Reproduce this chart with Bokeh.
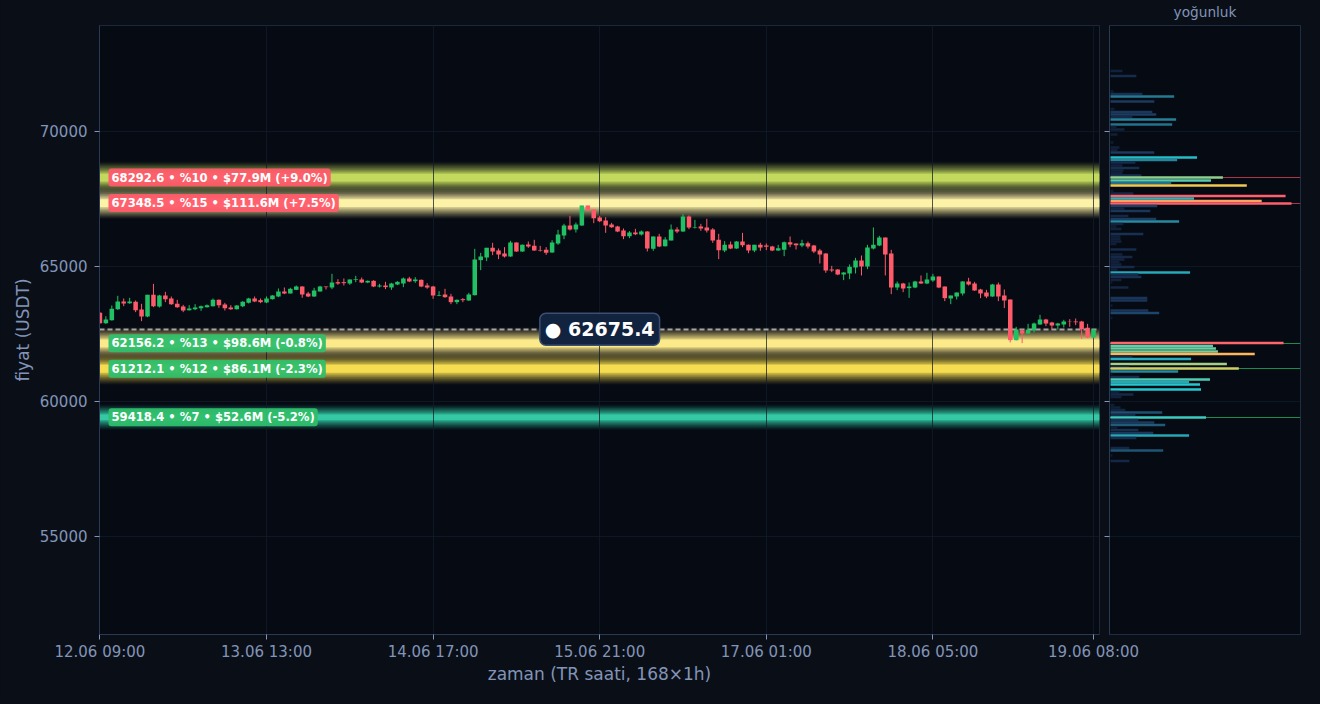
from bokeh.plotting import figure
from bokeh.layouts import row
from bokeh.models import Range1d, FixedTicker, Label, ColumnDataSource, CustomLabelingPolicy
from bokeh.embed import file_html
from bokeh.resources import INLINE

# ---------- data ----------
opens = [63284,62901,63012,63420,63704,63642,63691,63407,63148,63951,63518,63926,63815,63617,63518,63383,63420,63457,63494,63531,63765,63593,63481,63420,63531,63654,63815,63753,63667,63790,63889,64074,64000,64136,64259,64000,63889,64074,64259,64222,64420,64420,64370,64506,64519,64407,64469,64259,64296,64222,64333,64370,64556,64457,64506,64296,64259,
63914,63963,63889,63679,63790,63741,63938,65235,65333,65691,65593,65482,65371,65889,65556,65815,65766,65605,65617,65519,65852,66148,66519,66371,66519,67259,67111,66815,66704,66556,66482,66334,66124,66259,66185,66296,65654,66111,65753,65963,66371,66296,66852,66432,66482,66445,66371,65988,65593,65815,65667,65926,65803,65593,65803,65778,65741,65593,65617,65901,65852,65778,65864,65778,65593,65482,64889,64889,64704,64741,64963,65222,65000,65667,65778,66074,65482,64222,64370,64198,64222,64445,64370,64482,64630,64259,63815,63889,64000,64445,64370,64148,64037,63889,64333,63926,63778,62272,62630,62519,62630,62852,63037,62926,62815,62852,62963,62963,62963,62728,62370]
closes = [62901,63037,63432,63704,63630,63704,63383,63148,63951,63531,63926,63790,63605,63494,63370,63444,63481,63531,63568,63765,63568,63457,63420,63555,63691,63815,63704,63679,63815,63926,64074,64000,64173,64259,63963,63889,64111,64259,64235,64407,64370,64383,64519,64531,64407,64469,64259,64296,64235,64370,64432,64556,64444,64519,64259,64222,63926,
63938,63864,63679,63766,63753,63963,65259,65371,65691,65556,65445,65371,65889,65556,65803,65741,65593,65580,65506,65889,66185,66519,66371,66556,67259,67099,66790,66679,66519,66457,66296,66124,66259,66198,66296,65667,66111,65741,66000,66371,66296,66852,66445,66457,66408,66334,65963,65605,65803,65667,65926,65790,65593,65803,65704,65729,65593,65679,65901,65815,65790,65864,65741,65556,65445,64852,64852,64704,64778,64988,65222,65000,65704,65803,66074,65445,64222,64370,64185,64259,64445,64370,64519,64630,64222,63827,63926,64037,64445,64333,64111,64000,63889,64333,63889,63741,62272,62667,62519,62654,62889,63037,62889,62815,62889,62963,62951,62938,62679,62370,62667]
highs = [63310,63160,63555,63914,63815,63839,63741,63617,63951,64358,63951,64062,63889,63765,63580,63568,63605,63555,63593,63815,63778,63654,63568,63568,63716,63839,63889,63815,63889,63938,64185,64222,64210,64296,64272,64062,64210,64284,64259,64728,64531,64556,64519,64654,64593,64482,64494,64358,64432,64395,64457,64593,64617,64605,64519,64383,64284,
64087,64173,63988,63778,63827,64025,65654,65506,65691,65877,65667,65716,65951,65889,65815,65926,65988,65766,65716,65975,66358,66580,66877,66630,67259,67259,67111,66877,66827,66617,66506,66408,66309,66395,66334,66309,66111,66210,66087,66556,66457,66938,66889,66729,66580,66766,66420,66210,65938,65926,65938,66247,65815,65803,65877,65852,65766,65803,65926,66111,65852,65988,65926,65803,65654,65494,65025,64901,64790,65074,65321,65407,65803,66445,66136,66074,65617,64445,64395,64407,64469,64667,64765,64728,64630,64259,63926,64037,64457,64580,64432,64173,64136,64358,64407,64148,63778,62765,62679,62877,62926,63210,63062,62951,62914,63025,63050,63074,62988,62877,62692]
lows = [62880,62876,62998,63395,63531,63617,63309,62975,63123,63494,63481,63679,63580,63469,63309,63370,63383,63358,63481,63518,63469,63370,63395,63407,63494,63630,63679,63642,63642,63778,63864,63975,64000,64124,63839,63864,63876,64074,64148,64160,64321,64296,64321,64420,64383,64383,64235,64222,64160,64136,64309,64235,64420,64395,64235,64173,63802,
63901,63840,63605,63605,63679,63729,63926,64864,65198,65420,65272,65333,65358,65543,65543,65691,65580,65556,65432,65506,65803,66013,66334,66259,66506,67037,66605,66642,66247,66432,66272,66013,66050,66161,66148,65556,65580,65716,65741,65963,66235,66284,66383,66408,66321,66259,65877,65272,65531,65642,65654,65716,65494,65531,65580,65605,65568,65580,65383,65716,65630,65716,65667,65494,65111,64766,64790,64679,64494,64531,64741,64667,64901,65630,65753,64667,63975,64124,64049,63840,64198,64358,64346,64432,64198,63716,63605,63778,63926,64296,64099,63827,63827,63877,63716,63457,62185,62259,62161,62506,62556,62840,62790,62654,62667,62741,62765,62827,62321,62346,62358]
assert len(opens)==len(closes)==len(highs)==len(lows)==168, (len(opens),len(closes),len(highs),len(lows))

x_ticks = [0, 28, 56, 84, 112, 140, 167]
x_tick_labels = ["12.06 09:00","13.06 13:00","14.06 17:00","15.06 21:00","17.06 01:00","18.06 05:00","19.06 08:00"]
y_ticks = [55000, 60000, 65000, 70000]

levels = [68292.6, 67348.5, 62156.2, 61212.1, 59418.4]
level_pct = [10, 15, 13, 12, 7]
level_usd = [77.9, 111.6, 98.6, 86.1, 52.6]
level_chg = [9.0, 7.5, -0.8, -2.3, -5.2]
level_colors = ["#c2d95e", "#fdf3a8", "#fbe98a", "#f5dc50", "#35c8a4"]
current_price = 62675.4

dens_price = [72241,72056,71482,71389,71296,71111,70833,70722,70630,70537,70444,70259,70167,70074,69889,69593,69407,69315,69222,69037,68944,68852,68741,68648,68556,68463,68370,68296,68185,68093,68000,67796,67704,67611,67518,67426,67333,67241,67148,67055,66870,66759,66666,66574,66481,66389,66203,66111,66018,65926,65833,65629,65444,65352,65259,65166,65074,64981,64889,64778,64704,64611,64500,64407,64222,63833,63740,63555,63370,63278,63092,62166,62055,61962,61851,61759,61666,61574,61389,61296,61222,61111,61018,60907,60814,60722,60630,60444,60352,60259,60166,59870,59777,59685,59592,59500,59407,59315,59222,59129,59037,58944,58833,58740,58648,58277,58185,57999,57796]
dens_value = [12,26,3,32,64,44,4,42,46,22,66,62,6,14,7,3,9,7,44,87,67,25,12,29,13,12,31,113,101,61,137,3,23,176,84,152,182,47,14,40,18,46,69,13,6,11,33,10,10,11,6,26,12,22,14,9,11,24,7,80,28,31,11,2,18,37,37,2,38,49,2,174,103,106,108,145,22,81,117,19,129,68,2,29,100,79,90,91,9,23,11,4,10,15,52,25,96,28,44,55,7,28,43,79,26,19,53,2,19]

# ---------- theme ----------
PAGE = "#0a0f17"
PLOT = "#060a13"
TXT = "#8294b8"
UP = "#22c064"
DOWN = "#ff5a6a"
GRID = "#131c2c"
PX = 1000.0 / 27.0   # price per screen pixel on the y axis

ymin, ymax = 51370, 73926

p = figure(width=1145, height=707, frame_width=1000, frame_height=609,
           x_range=Range1d(-0.07, 168), y_range=Range1d(ymin, ymax),
           output_backend="svg", toolbar_location=None,
           min_border_left=99, min_border_right=46, min_border_top=30, min_border_bottom=68,
           background_fill_color=PLOT, border_fill_color=PAGE,
           outline_line_color="#1b2638",
           stylesheets=[":host { position: absolute !important; left: 0px !important; top: -5px !important; width: 1145px !important; height: 707px !important; }"])

def style_axis(ax):
    ax.axis_line_color = "#2a3a55"
    ax.major_tick_line_color = "#8294b8"
    ax.minor_tick_line_color = None
    ax.major_tick_in = 0
    ax.major_tick_out = 5
    ax.major_label_text_color = TXT
    ax.major_label_text_font = "DejaVu Sans"
    ax.major_label_text_font_size = "15px"
    ax.axis_label_text_color = TXT
    ax.axis_label_text_font = "DejaVu Sans"
    ax.axis_label_text_font_size = "17px"
    ax.axis_label_text_font_style = "normal"

style_axis(p.xaxis[0]); style_axis(p.yaxis[0])
p.xaxis[0].ticker = FixedTicker(ticks=x_ticks)
p.xaxis[0].major_label_overrides = dict(zip(x_ticks, x_tick_labels))
p.xaxis[0].axis_label = "zaman (TR saati, 168×1h)"
p.xaxis[0].axis_label_standoff = 0
p.xaxis[0].major_label_standoff = 3
p.yaxis[0].ticker = FixedTicker(ticks=y_ticks)
p.yaxis[0].axis_label = "fiyat (USDT)"
p.yaxis[0].major_label_standoff = 7
p.yaxis[0].axis_label_standoff = 4
p.grid.grid_line_color = GRID
p.grid.grid_line_alpha = 0.75
p.xgrid[0].ticker = FixedTicker(ticks=x_ticks)
p.ygrid[0].ticker = FixedTicker(ticks=y_ticks)

# glowing bands: nested layers whose stacked opacity follows a soft falloff
for lv, col, pct in zip(levels, level_colors, level_pct):
    outer = 13.0 if pct < 10 else 16.0
    solid = 2.7 if pct < 10 else 3.9
    n = 14
    prev = 0.0
    for k in range(n):
        half = outer - (outer - solid) * k / n
        target = 0.85 * ((k + 1) / n) ** 1.25
        a = 1 - (1 - target) / (1 - prev)
        prev = target
        p.hbar(y=[lv], left=[-5], right=[175], height=2 * half * PX,
               fill_color=col, fill_alpha=a, line_color=None, level="image")
    p.hbar(y=[lv], left=[-5], right=[175], height=2 * solid * PX,
           fill_color=col, fill_alpha=1.0, line_color=None, level="image")

# current price
p.hspan(y=[current_price], line_color="#b4b4b4", line_width=2, line_dash="5 3", line_alpha=0.9)

# candles
xs = list(range(len(opens)))
colors = [UP if c >= o else DOWN for o, c in zip(opens, closes)]
src = ColumnDataSource(dict(x=xs, o=opens, c=closes, h=highs, l=lows, col=colors,
                            top=[max(a, b) for a, b in zip(opens, closes)],
                            bot=[min(a, b) for a, b in zip(opens, closes)]))
p.segment(x0="x", x1="x", y0="l", y1="h", line_color="col", line_width=1, source=src)
p.vbar(x="x", width=0.76, top="top", bottom="bot", fill_color="col", line_color=None, source=src)

# level labels
for lv, pct, usd, chg in zip(levels, level_pct, level_usd, level_chg):
    txt = f"{lv:.1f} • %{pct} • ${usd:.1f}M ({chg:+.1f}%)"
    bg = DOWN if lv > current_price else "#2fbf6c"
    p.add_layout(Label(x=9, y=lv, x_units="screen", y_units="data", text=txt,
                       text_color="white", text_font="DejaVu Sans", text_font_style="bold",
                       text_font_size="11.6px", text_align="left", text_baseline="middle",
                       background_fill_color=bg, background_fill_alpha=0.95,
                       border_radius=3, padding=(3, 2)))
p.add_layout(Label(x=84, y=current_price, x_units="data", y_units="data",
                   text=f"● {current_price}", text_color="white", text_font="DejaVu Sans",
                   text_font_style="bold", text_font_size="19px", text_align="center",
                   text_baseline="middle", background_fill_color="#12233f",
                   border_line_color="#3c4f70", border_line_width=1.5, border_radius=6, padding=5))

# ---------- density panel ----------
stops = [(0, (15, 26, 48)), (0.25, (28, 58, 96)), (0.37, (39, 133, 156)), (0.5, (38, 200, 208)),
         (0.57, (96, 207, 168)), (0.64, (163, 207, 133)), (0.72, (213, 207, 96)), (0.76, (245, 200, 76)),
         (0.80, (255, 179, 92)), (0.85, (255, 154, 98)), (0.97, (255, 95, 109)), (1.0, (255, 95, 109))]

def ramp(v):
    t = v / max(dens_value)
    for (a, ca), (b, cb) in zip(stops, stops[1:]):
        if t <= b:
            f = (t - a) / (b - a)
            return "#%02x%02x%02x" % tuple(round(x + (y - x) * f) for x, y in zip(ca, cb))
    return "#ff5f6d"

q = figure(width=216, height=707, frame_width=192, frame_height=609,
           x_range=Range1d(-1, 191), y_range=p.y_range,
           output_backend="svg", toolbar_location=None,
           min_border_left=4, min_border_right=20, min_border_top=30, min_border_bottom=68,
           background_fill_color=PLOT, border_fill_color=None,
           outline_line_color="#1f2c44",
           stylesheets=[":host { position: absolute !important; left: 1104px !important; top: -5px !important; width: 216px !important; height: 707px !important; }"])
q.title.text = "yoğunluk"
q.title.align = "center"
q.title.text_color = TXT
q.title.text_font = "DejaVu Sans"
q.title.text_font_size = "13.7px"
q.title.text_font_style = "normal"
q.title.standoff = 12
q.xaxis.visible = False
q.xgrid.visible = False
style_axis(q.yaxis[0])
q.yaxis[0].ticker = FixedTicker(ticks=y_ticks)
q.yaxis[0].major_label_overrides = {t: "" for t in y_ticks}
q.yaxis[0].major_label_policy = CustomLabelingPolicy(code="")
q.yaxis[0].major_label_standoff = 0
q.ygrid[0].ticker = FixedTicker(ticks=y_ticks)
q.ygrid.grid_line_color = GRID
q.ygrid.grid_line_alpha = 0.7

q.hspan(y=[l for l in levels if l > current_price], line_color="#c8404c", line_width=1.2, line_alpha=0.85)
q.hspan(y=[l for l in levels if l < current_price], line_color="#1f9a55", line_width=1.2, line_alpha=0.9)
q.hbar(y=dens_price, left=0, right=dens_value, height=92,
       fill_color=[ramp(v) for v in dens_value], line_color=None)

layout = row(p, q, spacing=0, width=1320, height=707)
html = file_html(layout, INLINE)
html = html.replace("<head>", "<head><style>html,body{margin:0;padding:0;background:%s;overflow:hidden}</style>" % PAGE, 1)
open("out.html", "w").write(html)
